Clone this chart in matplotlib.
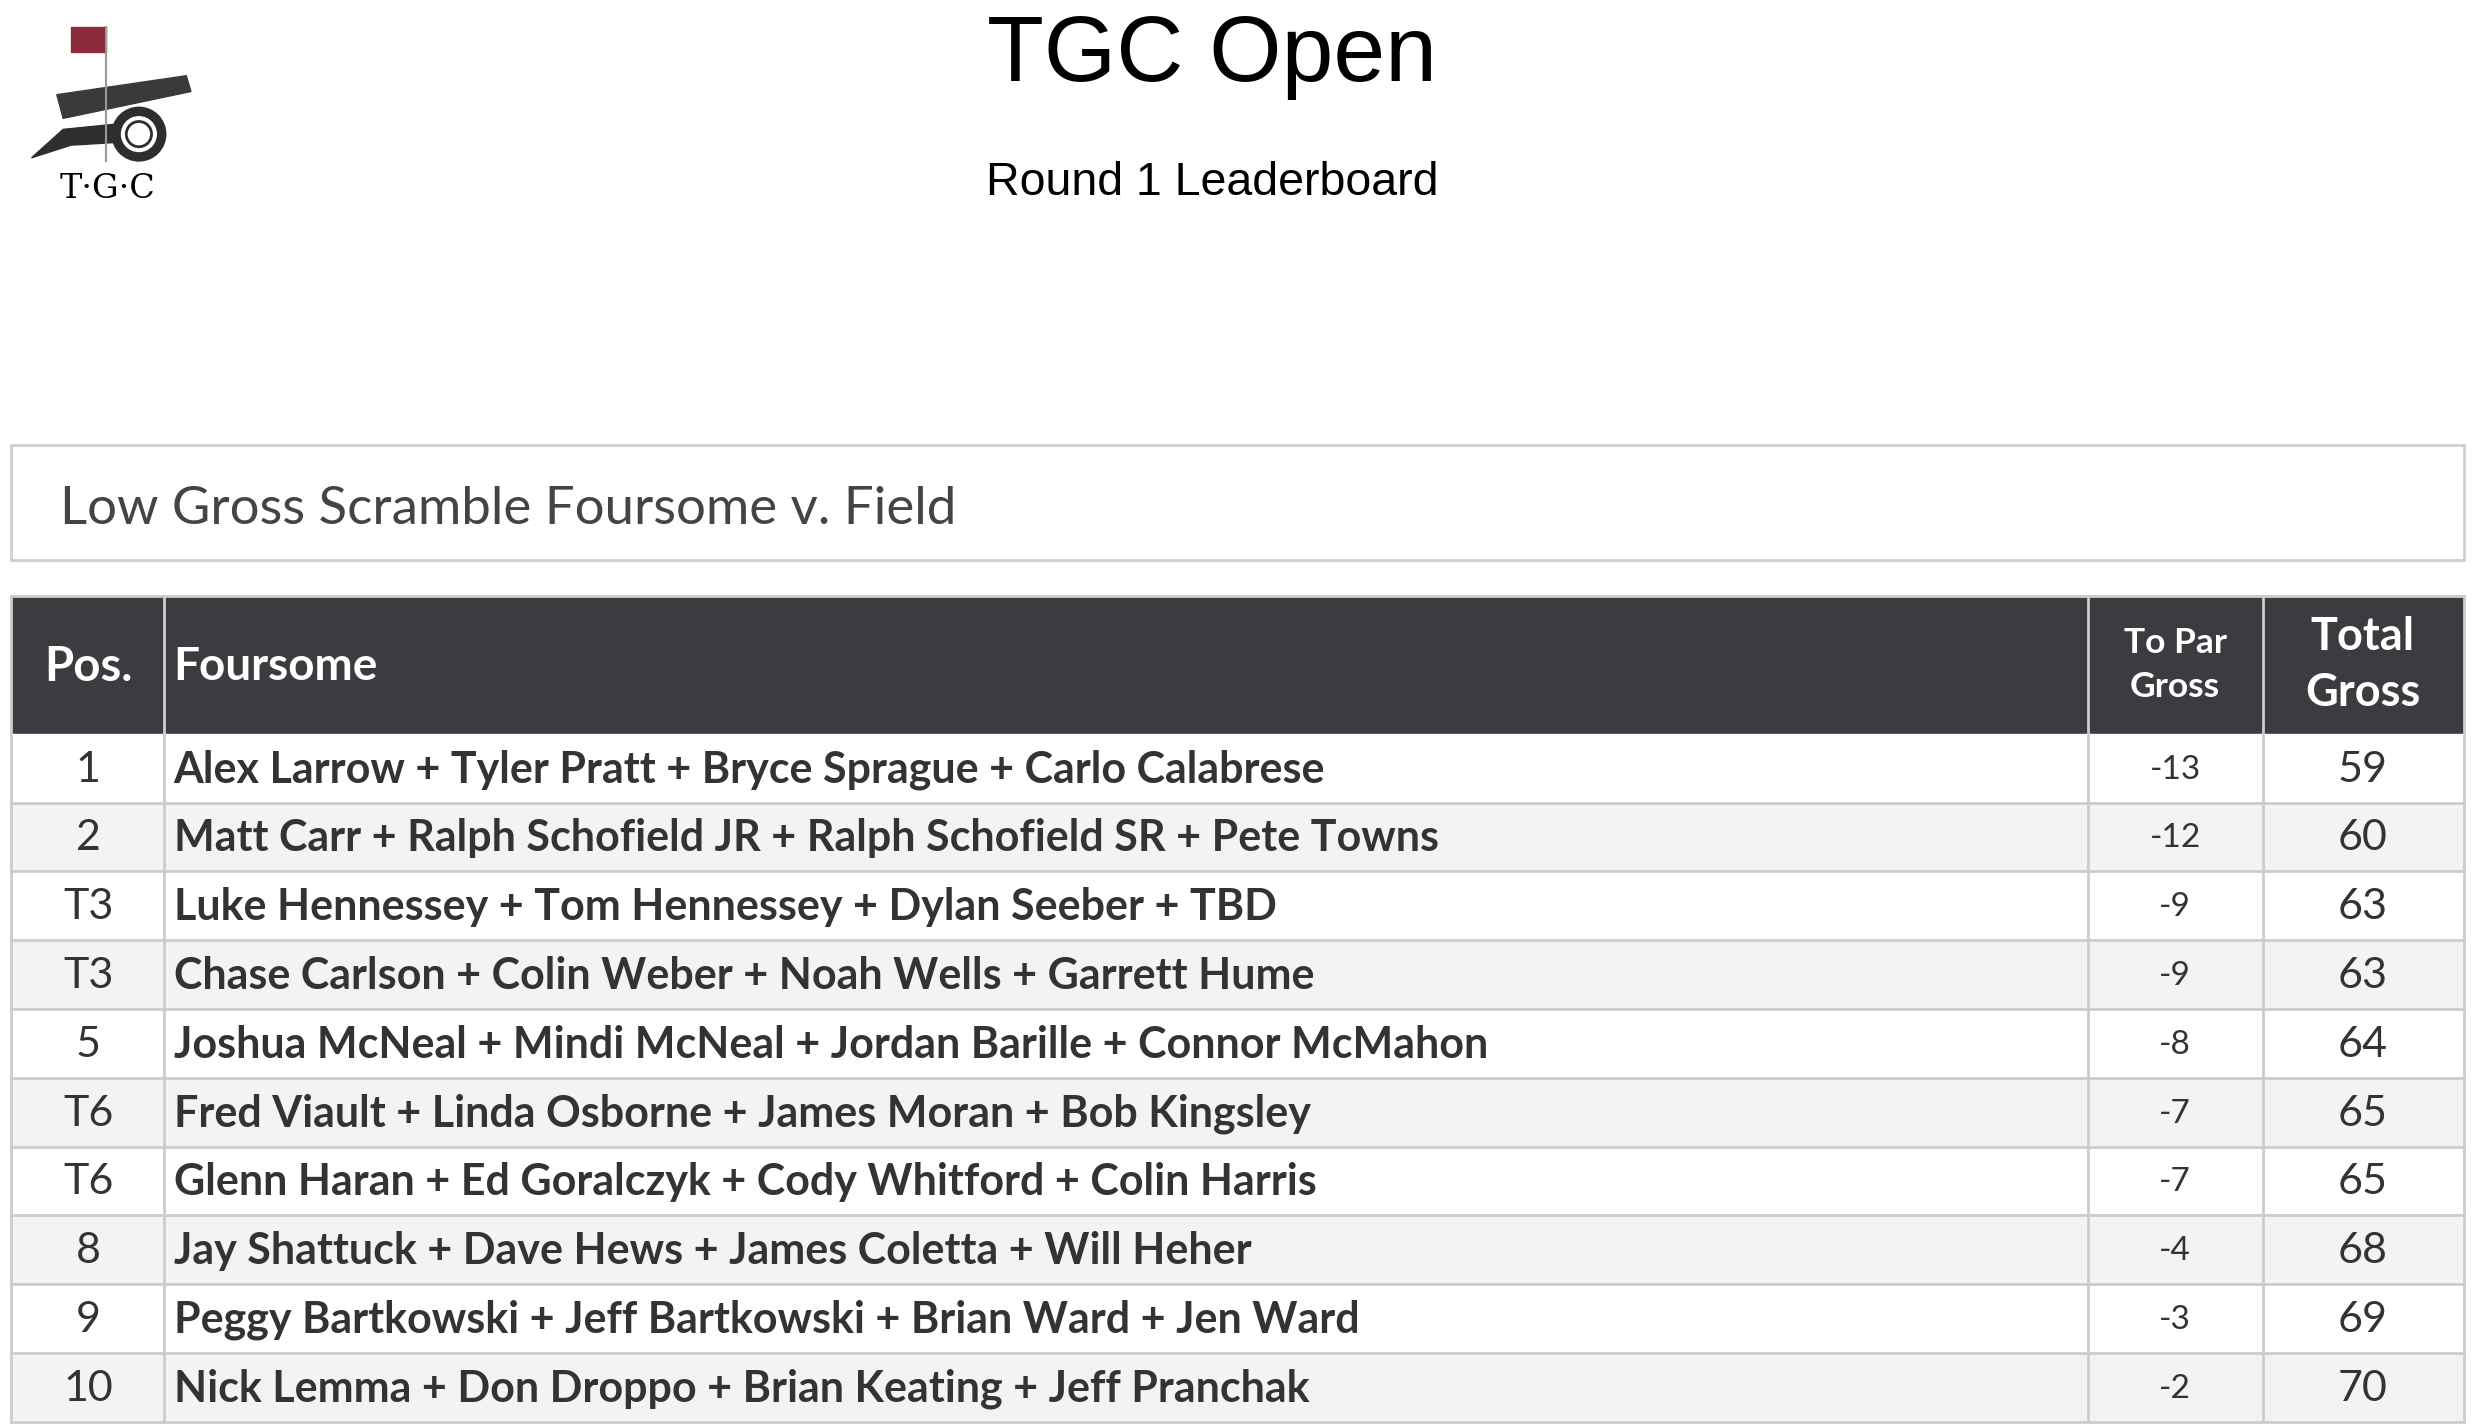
import matplotlib.pyplot as plt
from matplotlib.patches import Rectangle, Circle, Polygon

pos = ['1', '2', 'T3', 'T3', '5', 'T6', 'T6', '8', '9', '10']
foursomes = [
    'Alex Larrow + Tyler Pratt + Bryce Sprague + Carlo Calabrese',
    'Matt Carr + Ralph Schofield JR + Ralph Schofield SR + Pete Towns',
    'Luke Hennessey + Tom Hennessey + Dylan Seeber + TBD',
    'Chase Carlson + Colin Weber + Noah Wells + Garrett Hume',
    'Joshua McNeal + Mindi McNeal + Jordan Barille + Connor McMahon',
    'Fred Viault + Linda Osborne + James Moran + Bob Kingsley',
    'Glenn Haran + Ed Goralczyk + Cody Whitford + Colin Harris',
    'Jay Shattuck + Dave Hews + James Coletta + Will Heher',
    'Peggy Bartkowski + Jeff Bartkowski + Brian Ward + Jen Ward',
    'Nick Lemma + Don Droppo + Brian Keating + Jeff Pranchak',
]
to_par = [-13, -12, -9, -9, -8, -7, -7, -4, -3, -2]
total_gross = [59, 60, 63, 63, 64, 65, 65, 68, 69, 70]

FONT = 'Lato'
W, H = 1568, 905
fig = plt.figure(figsize=(24.75, 14.28), dpi=100)
ax = fig.add_axes([0, 0, 1, 1])
ax.set_xlim(0, W)
ax.set_ylim(H, 0)
ax.axis('off')

# titles
ax.text(768, 36, 'TGC Open', ha='center', va='center', fontsize=67, family='Liberation Sans')
ax.text(768, 116, 'Round 1 Leaderboard', ha='center', va='center', fontsize=33.5, family='Liberation Sans')

# logo (rough)
ax.add_patch(Rectangle((45, 17), 22, 16, color='#8a2a3a'))
ax.plot([67, 67], [17, 102], color='#999999', lw=1.5)
ax.add_patch(Polygon([[36, 60], [118, 48], [121, 58], [40, 75]], color='#3a3a3a'))
ax.add_patch(Polygon([[20, 100], [40, 82], [80, 78], [78, 90], [45, 92]], color='#2e2e2e'))
ax.add_patch(Circle((88, 85), 17, color='#2e2e2e'))
ax.add_patch(Circle((88, 85), 11, color='white'))
ax.add_patch(Circle((88, 85), 8, fill=False, ec='#2e2e2e', lw=2))
ax.text(68, 120, 'T·G·C', ha='center', va='center', fontsize=24, family='DejaVu Serif')

# subtitle box
ax.add_patch(Rectangle((7, 282), 1554, 73, fill=False, ec='#cfcfcf', lw=2))
ax.text(38, 323, 'Low Gross Scramble Foursome v. Field', ha='left', va='center',
        fontsize=38, color='#444444', family=FONT)

# table
cols = [7, 104, 1323, 1434, 1561]
top, head_h = 378, 87
row_h = (901 - 465) / len(pos)
ax.add_patch(Rectangle((7, top), 1554, head_h, color='#3c3b40'))
hy = top + head_h / 2
ax.text(56, hy + 1, 'Pos.', ha='center', va='center', color='white', fontsize=34, weight='bold', family=FONT)
ax.text(110, hy + 1, 'Foursome', ha='left', va='center', color='white', fontsize=33, weight='bold', family=FONT)
ax.text(1378, hy, 'To Par\nGross', ha='center', va='center', color='white', fontsize=25.5,
        weight='bold', family=FONT, linespacing=1.45)
ax.text(1497, hy, 'Total\nGross', ha='center', va='center', color='white', fontsize=32.5,
        weight='bold', family=FONT, linespacing=1.4)

for i in range(len(pos)):
    y0 = 465 + i * row_h
    yc = y0 + row_h / 2 + 1
    ax.add_patch(Rectangle((7, y0), 1554, row_h, color='white' if i % 2 == 0 else '#f3f3f3'))
    ax.plot([7, 1561], [y0 + row_h, y0 + row_h], color='#cccccc', lw=2)
    ax.text(56, yc, pos[i], ha='center', va='center', fontsize=31, color='#333333', family=FONT)
    ax.text(110, yc, foursomes[i], ha='left', va='center', fontsize=31, color='#333333',
            weight='bold', family=FONT)
    ax.text(1378, yc, str(to_par[i]), ha='center', va='center', fontsize=24, color='#333333', family=FONT)
    ax.text(1497, yc, str(total_gross[i]), ha='center', va='center', fontsize=31, color='#333333', family=FONT)

for x in cols:
    ax.plot([x, x], [top, 901], color='#cccccc', lw=2)
ax.plot([7, 1561], [top, top], color='#cccccc', lw=2)

fig.savefig('out.png', dpi=100)
